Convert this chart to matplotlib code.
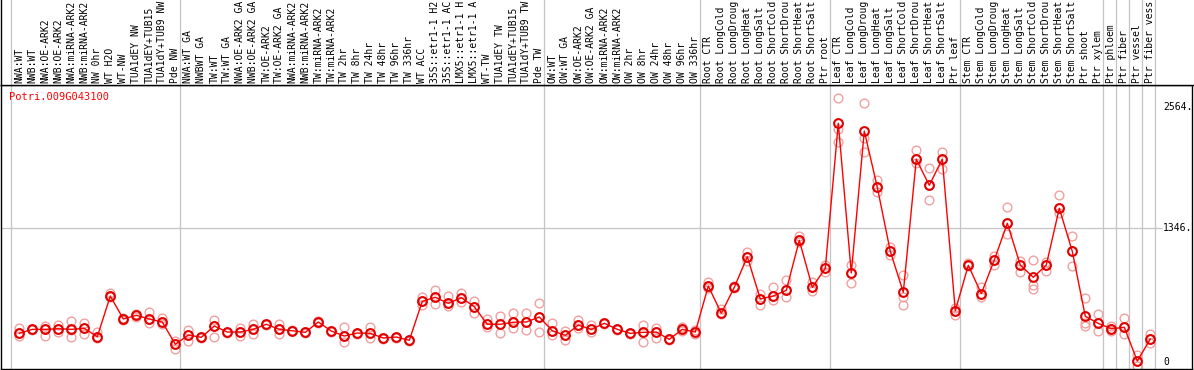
import numpy as np
import matplotlib
matplotlib.use("Agg")
import matplotlib.pyplot as plt

gene = "Potri.009G043100"

labels = [
    "NWA:WT", "NWB:WT", "NWA:OE-ARK2", "NWB:OE-ARK2", "NWA:miRNA-ARK2", "NWB:miRNA-ARK2",
    "NW 0hr", "WT H2O", "WT-NW", "TUA1dEY NW", "TUA1dEY+TUB15", "TUA1dY+TUB9 NW", "Pde NW",
    "NWA:WT GA", "NWBWT GA", "TW:WT", "TW:WT GA", "NWA:OE-ARK2 GA", "NWB:OE-ARK2 GA",
    "TW:OE-ARK2", "TW:OE-ARK2 GA", "NWA:miRNA-ARK2", "NWB:miRNA-ARK2", "TW:miRNA-ARK2",
    "TW:miRNA-ARK2", "TW 2hr", "TW 8hr", "TW 24hr", "TW 48hr", "TW 96hr", "TW 336hr",
    "WT ACC", "35S::etr1-1 H2", "35S::etr1-1 AC", "LMX5::etr1-1 H", "LMX5::etr1-1 A",
    "WT-TW", "TUA1dEY TW", "TUA1dEY+TUB15", "TUA1dY+TUB9 TW", "Pde TW",
    "OW:WT", "OW:WT GA", "OW:OE-ARK2", "OW:OE-ARK2 GA", "OW:miRNA-ARK2", "OW:miRNA-ARK2",
    "OW 2hr", "OW 8hr", "OW 24hr", "OW 48hr", "OW 96hr", "OW 336hr",
    "Root CTR", "Root LongCold", "Root LongDroug", "Root LongHeat", "Root LongSalt",
    "Root ShortCold", "Root ShortDrou", "Root ShortHeat", "Root ShortSalt", "Ptr root",
    "Leaf CTR", "Leaf LongCold", "Leaf LongDroug", "Leaf LongHeat", "Leaf LongSalt",
    "Leaf ShortCold", "Leaf ShortDrou", "Leaf ShortHeat", "Leaf ShortSalt", "Ptr leaf",
    "Stem CTR", "Stem LongCold", "Stem LongDroug", "Stem LongHeat", "Stem LongSalt",
    "Stem ShortCold", "Stem ShortDrou", "Stem ShortHeat", "Stem ShortSalt", "Ptr shoot",
    "Ptr xylem", "Ptr phloem", "Ptr fiber", "Ptr vessel", "Ptr fiber vess",
]

# first sample index of each group (last entry closes the final group)
group_starts = [0, 13, 41, 53, 63, 73, 84, 85, 86, 87, 88]

means = [
    288, 328, 328, 334, 328, 338, 254, 663, 432, 469, 432, 402, 178,
    271, 248, 361, 301, 301, 328, 379, 328, 314, 298, 402, 311, 261, 291, 288,
    241, 251, 218, 609, 650, 589, 646, 555, 379, 379, 399, 402, 452,
    314, 268, 371, 328, 389, 328, 288, 298, 301, 228, 328, 301,
    763, 489, 750, 1057, 633, 663, 720, 1222, 750, 941,
    2397, 894, 2319, 1754, 1111, 700, 2035, 1774, 2038, 515,
    971, 686, 1024, 1393, 974, 850, 974, 1543, 1111, 459, 388,
    334, 348, 10, 231,
]

reps = [
    [344, 264, 290], [335, 320], [361, 261, 330], [371, 304, 335], [412, 248, 325],
    [395, 281, 338], [298, 241, 254], [690, 650, 663], [440, 425], [480, 455, 469],
    [499, 395, 432], [439, 379, 402], [214, 131, 178],
    [321, 211, 271], [255, 240], [422, 248, 361], [301, 295], [344, 261, 301],
    [382, 281, 328], [385, 372], [379, 278, 328], [318, 310], [298, 292], [410, 395],
    [315, 305], [354, 198, 261], [295, 285], [354, 238, 288], [245, 235], [255, 245],
    [222, 212], [650, 572, 609], [723, 582, 650], [663, 562, 589], [693, 602, 646],
    [612, 489, 555], [429, 351, 379], [462, 294, 379], [495, 341, 399],
    [495, 321, 402], [589, 298, 452],
    [395, 271, 314], [311, 221, 268], [422, 345, 371], [371, 300, 328], [395, 380],
    [335, 320], [295, 280], [371, 198, 298], [338, 244, 301], [235, 220],
    [354, 310, 328], [321, 280, 301],
    [803, 740, 763], [529, 480], [760, 745], [1107, 1014, 1057], [680, 569, 633],
    [750, 622, 663], [820, 656, 720], [1268, 1200, 1222], [806, 716, 750],
    [974, 907, 941],
    [2648, 2336, 2212], [974, 790, 894], [2597, 2246, 2111], [1827, 1710, 1754],
    [1158, 1074, 1111], [873, 656, 572], [2128, 1995, 2035], [1945, 1626, 1774],
    [2111, 1935, 2038], [539, 472, 515],
    [991, 960], [750, 656, 686], [1064, 974, 1024], [1553, 1285, 1393],
    [1017, 907, 974], [1021, 773, 730], [1007, 917, 974], [1674, 1493, 1543],
    [1265, 964, 1111], [640, 361, 390], [479, 314, 388],
    [361, 314, 334], [439, 281, 348], [70, -40, 10], [281, 188, 231],
]

ytick_vals = [2564, 1346, 0]
ytick_text = ["2564.", "1346.", "0"]

W, H = 1194, 370
mono = "DejaVu Sans Mono"
grey = "#c4c4c4"

fig = plt.figure(figsize=(W / 100, H / 100), dpi=100)

# plot area: pixel box x 1..1192, y 85..369
ax = fig.add_axes([1 / W, 1 - 369 / H, 1191 / W, 284 / H])
# label strip above it
top = fig.add_axes([1 / W, 1 - 85 / H, 1193 / W, 85 / H])

step = 13.0
x0px = 19.3
ax.set_xlim((1 - x0px) / step, (1192 - x0px) / step)
top.set_xlim((1 - x0px) / step, (1194 - x0px) / step)
ax.set_ylim(-70, 2781)
top.set_ylim(0, 1)

x = np.arange(len(labels))

for gs in group_starts:
    ax.axvline(gs - 0.66, color=grey, lw=0.9, zorder=1)
    top.axvline(gs - 0.66, color=grey, lw=0.9, zorder=1)

ax.hlines(1346, ax.get_xlim()[0], 87.9, color=grey, lw=0.9, zorder=1)

# replicate points
for i, r in enumerate(reps):
    ax.plot([i] * len(r), r, "o", ms=6.3, mfc="none", mec="#f0a0a0", mew=1.0, zorder=2)

ax.plot(x, means, "-", color="red", lw=1.0, zorder=3)
ax.plot(x, means, "o", ms=6.3, mfc="none", mec="#e00000", mew=1.5, zorder=4)

for v, t in zip(ytick_vals, ytick_text):
    ax.text(88.0, v, t, family=mono, fontsize=7, va="center", ha="left")

ax.text(8 / 1191, (369 - 97) / 284, gene, transform=ax.transAxes, family=mono,
        fontsize=7.5, color="red", va="center", ha="left")

for i, lab in enumerate(labels):
    top.text(i, 0.025, lab, rotation=90, family=mono, fontsize=7,
             va="bottom", ha="center")

for a in (ax, top):
    a.set_xticks([])
    a.set_yticks([])
    for s in a.spines.values():
        s.set_color("black")
        s.set_linewidth(1.0)
top.spines["top"].set_visible(False)
top.spines["right"].set_visible(False)

fig.savefig("out.png", dpi=100)
